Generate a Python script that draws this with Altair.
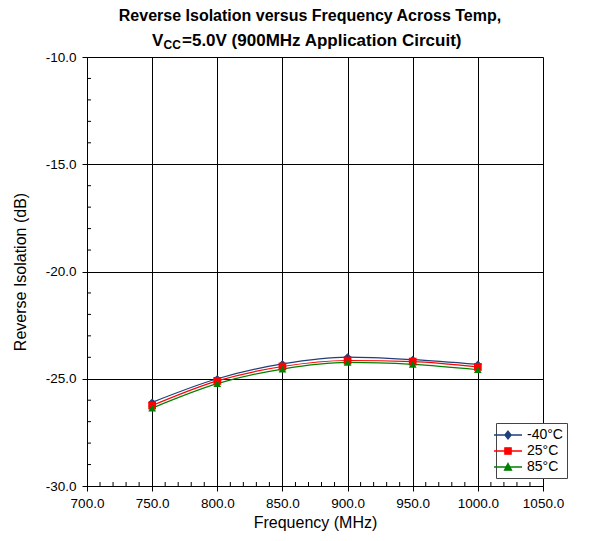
import altair as alt
import pandas as pd

# ---- data ----
freq = [750, 800, 850, 900, 950, 1000]
iso_m40 = [-26.10, -25.00, -24.31, -23.99, -24.11, -24.33]
iso_25 = [-26.25, -25.10, -24.43, -24.15, -24.20, -24.45]
iso_85 = [-26.37, -25.23, -24.55, -24.24, -24.33, -24.58]
temps = ["-40°C", "25°C", "85°C"]
colors = ["#1F3F7A", "#FF0000", "#008000"]
shapes = ["diamond", "square", "triangle-up"]
legend_shapes = [
    "M-2,0H2M0,-0.55L0.45,0L0,0.55L-0.45,0Z",
    "M-2,0H2M-0.45,-0.45H0.45V0.45H-0.45Z",
    "M-2,0H2M0,-0.5L0.5,0.45L-0.5,0.45Z",
]
x_ticks = [700, 750, 800, 850, 900, 950, 1000, 1050]
y_ticks = [-30, -25, -20, -15, -10]
x_minor = [v for v in range(700, 1051, 10) if v % 50]
y_minor = [v for v in range(-30, -9) if v % 5]

W, H = 456, 429
FONT = "Liberation Sans"
LBL = "replace(format(datum.value, '.1f'), '\u2212', '-')"

rows = []
for t, vals in zip(temps, [iso_m40, iso_25, iso_85]):
    for f, v in zip(freq, vals):
        rows.append({"freq": f, "iso": v, "temp": t})
df = pd.DataFrame(rows)

xscale = alt.Scale(domain=[700, 1050], nice=False, zero=False)
yscale = alt.Scale(domain=[-30, -10], nice=False, zero=False)

common = dict(grid=True, gridColor="black", gridOpacity=1, gridWidth=1, domainColor="black",
              tickColor="black", tickSize=5, labelFontSize=13.5, labelFont=FONT,
              labelColor="black", titleFont=FONT, titleFontSize=16,
              titleFontWeight="normal", titleColor="black", labelFlush=False,
              labelExpr=LBL)
xaxis = alt.Axis(values=x_ticks, title="Frequency (MHz)", labelPadding=5, titlePadding=5,
                 **common)
yaxis = alt.Axis(values=y_ticks, title="Reverse Isolation (dB)", labelPadding=6,
                 titlePadding=17, **common)

color_scale = alt.Scale(domain=temps, range=colors)
shape_scale = alt.Scale(domain=temps, range=shapes)

X = alt.X("freq:Q", scale=xscale, axis=xaxis)
Y = alt.Y("iso:Q", scale=yscale, axis=yaxis)

base = alt.Chart(df)
lines = base.mark_line(interpolate="monotone", strokeWidth=1.2).encode(
    x=X, y=Y,
    color=alt.Color("temp:N", scale=color_scale, legend=None),
    detail="temp:N",
)
points = base.mark_point(filled=True, size=60, opacity=1).encode(
    x=X, y=Y,
    color=alt.Color("temp:N", scale=color_scale, legend=None),
    shape=alt.Shape("temp:N", scale=shape_scale, legend=None),
)
main = alt.layer(lines, points)

leg = alt.Legend(title=None, orient="none", legendX=409, legendY=366, direction="vertical",
                 strokeColor="#444444", fillColor="white", padding=4, symbolSize=196,
                 symbolStrokeWidth=1.3, labelFontSize=14, labelFont=FONT, labelColor="black",
                 labelOffset=11, rowPadding=1, symbolOpacity=1)
legend_layer = alt.Chart(df).transform_filter("false").mark_point(
    filled=False, opacity=1, strokeWidth=1.3).encode(
    x=X, y=Y,
    color=alt.Color("temp:N", scale=alt.Scale(domain=temps, range=colors), legend=leg),
    fill=alt.Fill("temp:N", scale=alt.Scale(domain=temps, range=colors), legend=leg),
    shape=alt.Shape("temp:N", scale=alt.Scale(domain=temps, range=legend_shapes), legend=leg),
)

xminor = alt.Chart(pd.DataFrame({"freq": x_minor})).mark_rule(color="black", strokeWidth=1).encode(
    x=X, y=alt.value(H), y2=alt.value(H - 4),
)
yminor = alt.Chart(pd.DataFrame({"iso": y_minor})).mark_rule(color="black", strokeWidth=1).encode(
    y=Y, x=alt.value(0), x2=alt.value(4),
)

one = alt.InlineData(values=[{"a": 1}])
t1 = alt.Chart(one).mark_text(text="Reverse Isolation versus Frequency Across Temp,",
                              font=FONT, fontSize=16, fontWeight="bold", align="center",
                              baseline="alphabetic").encode(x=alt.value(223), y=alt.value(-36))
t2a = alt.Chart(one).mark_text(text="V", font=FONT, fontSize=17, fontWeight="bold",
                               align="left", baseline="alphabetic").encode(
    x=alt.value(65), y=alt.value(-11))
t2b = alt.Chart(one).mark_text(text="CC", font=FONT, fontSize=12, fontWeight="bold",
                               align="left", baseline="alphabetic").encode(
    x=alt.value(76.5), y=alt.value(-8))
t2c = alt.Chart(one).mark_text(text="=5.0V (900MHz Application Circuit)", font=FONT,
                               fontSize=17, fontWeight="bold", align="left",
                               baseline="alphabetic").encode(
    x=alt.value(95), y=alt.value(-11))

chart = alt.layer(xminor, yminor, main, legend_layer, t1, t2a, t2b, t2c).resolve_scale(
    color="independent", shape="independent", fill="independent"
).properties(
    width=W, height=H,
    autosize=alt.AutoSizeParams(type="none"),
    padding={"left": 79, "top": 49, "right": 62, "bottom": 56},
).configure_view(stroke="black", strokeWidth=1).configure(background="white")

chart.save("out.html", embed_options={"renderer": "svg", "actions": False})
